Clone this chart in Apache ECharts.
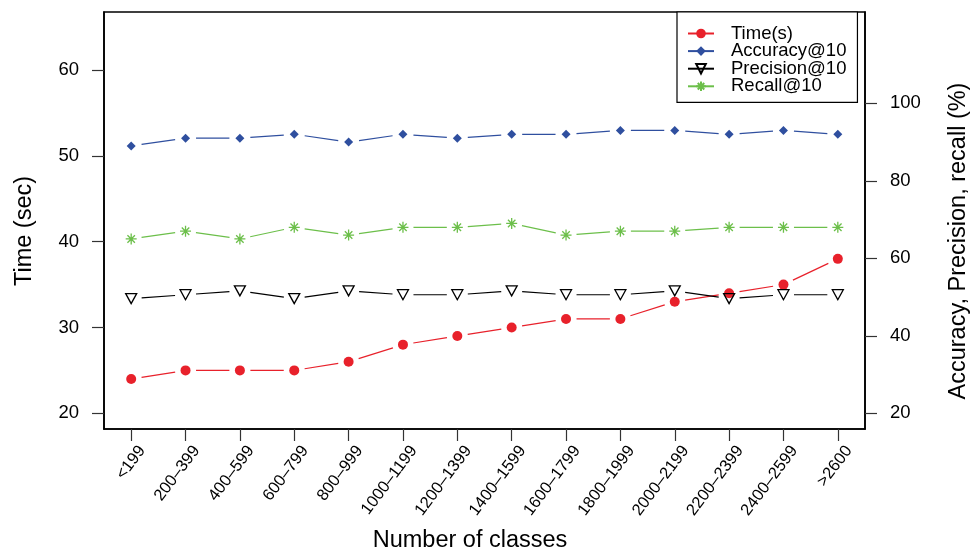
<!DOCTYPE html>
<html>
<head>
<meta charset="utf-8">
<script src="https://cdn.jsdelivr.net/npm/echarts@6/dist/echarts.min.js"></script>
<style>
html,body{margin:0;padding:0;background:#fff;}
#chart{width:971px;height:551px;}
</style>
</head>
<body>
<div id="chart"></div>
<script>
const categories = ['<199','200–399','400–599','600–799','800–999','1000–1199','1200–1399','1400–1599','1600–1799','1800–1999','2000–2199','2200–2399','2400–2599','>2600'];
const timeSec   = [24,25,25,25,26,28,29,30,31,31,33,34,35,38];
const accuracy  = [89,91,91,92,90,92,91,92,92,93,93,92,93,92];
const precision = [49.6,50.6,51.6,49.6,51.6,50.6,50.6,51.6,50.6,50.6,51.6,49.6,50.6,50.6];
const recall    = [65,67,65,68,66,68,68,69,66,67,67,68,68,68];
const leftTicks  = [20,30,40,50,60];
const rightTicks = [20,40,60,80,100];
const seriesNames = ['Time(s)','Accuracy@10','Precision@10','Recall@10'];

const FONT = '"Liberation Sans", Arial, Helvetica, sans-serif';
const RED = '#E8212B', BLUE = '#2F4F9F', BLACK = '#000000', GREEN = '#6CBF4A';
const GAP = 10.5;
const ASTERISK = 'path://M0,5L10,5M5,0L5,10M1.6,1.6L8.4,8.4M8.4,1.6L1.6,8.4';

function gapLine(values, color, yAxisIndex, z) {
  const data = [];
  for (let i = 0; i < values.length - 1; i++) data.push([i, values[i], i + 1, values[i + 1]]);
  return {
    type: 'custom', yAxisIndex: yAxisIndex, silent: true, z: z,
    data: data, encode: { x: [0, 2], y: [1, 3] },
    renderItem: function (params, api) {
      const a = api.coord([api.value(0), api.value(1)]);
      const b = api.coord([api.value(2), api.value(3)]);
      const dx = b[0] - a[0], dy = b[1] - a[1], L = Math.hypot(dx, dy);
      if (L <= 2 * GAP) return null;
      const ux = dx / L, uy = dy / L;
      return {
        type: 'line',
        shape: { x1: a[0] + ux * GAP, y1: a[1] + uy * GAP, x2: b[0] - ux * GAP, y2: b[1] - uy * GAP },
        style: { stroke: color, lineWidth: 1.2 }
      };
    }
  };
}

function markers(name, values, color, yAxisIndex, symbol, size, itemStyle, z, rot) {
  return {
    name: name, type: 'line', yAxisIndex: yAxisIndex, z: z,
    data: values, symbol: symbol, symbolSize: size, symbolRotate: rot || 0,
    showAllSymbol: true, silent: true, animation: false,
    lineStyle: { color: color, width: 1.2, opacity: 0 },
    itemStyle: itemStyle
  };
}

const chart = echarts.init(document.getElementById('chart'), null, { renderer: 'canvas' });
chart.setOption({
  animation: false,
  backgroundColor: '#ffffff',
  textStyle: { fontFamily: FONT },
  grid: { left: 104, right: 106, top: 12, bottom: 122, show: true, borderColor: '#000', borderWidth: 1.6, containLabel: false },
  xAxis: {
    type: 'category', data: categories, boundaryGap: true,
    axisLine: { show: true, lineStyle: { color: '#000', width: 1.6 } },
    axisTick: { show: true, alignWithLabel: true, length: 12, inside: false, lineStyle: { color: '#333', width: 1.2 } },
    axisLabel: { interval: 0, rotate: 53, margin: 10.5, color: '#000', fontSize: 16.5, fontFamily: FONT,
                 align: 'right', verticalAlign: 'top', lineHeight: 27.5 },
    splitLine: { show: false }
  },
  yAxis: [
    {
      type: 'value', position: 'left', min: 18.17, max: 66.77,
      axisLine: { show: true, lineStyle: { color: '#000', width: 1.6 } },
      axisTick: { show: true, length: 12, lineStyle: { color: '#333', width: 1.2 }, customValues: leftTicks },
      axisLabel: { color: '#000', fontSize: 18.5, fontFamily: FONT, margin: 25, customValues: leftTicks },
      splitLine: { show: false }
    },
    {
      type: 'value', position: 'right', min: 15.95, max: 123.56,
      axisLine: { show: true, lineStyle: { color: '#000', width: 1.6 } },
      axisTick: { show: true, length: 12, lineStyle: { color: '#333', width: 1.2 }, customValues: rightTicks },
      axisLabel: { color: '#000', fontSize: 18.5, fontFamily: FONT, margin: 25, customValues: rightTicks },
      splitLine: { show: false }
    }
  ],
  legend: {
    orient: 'vertical', left: 677, top: 12,
    padding: [12, 11, 6.5, 10],
    itemWidth: 26, itemHeight: 12, itemGap: -1.4,
    backgroundColor: '#fff', borderColor: '#000', borderWidth: 1.2, borderRadius: 0,
    textStyle: { fontSize: 18.5, lineHeight: 17, color: '#000', fontFamily: FONT, padding: [0, 0, 0, 12] },
    data: seriesNames.map(function (n) { return { name: n, lineStyle: { opacity: 1 } }; }),
    selectedMode: false
  },
  series: [
    gapLine(timeSec, RED, 0, 2),
    markers(seriesNames[0], timeSec, RED, 0, 'circle', 10, { color: RED }, 3),
    gapLine(accuracy, BLUE, 1, 4),
    markers(seriesNames[1], accuracy, BLUE, 1, 'diamond', 9, { color: BLUE }, 5),
    gapLine(precision, BLACK, 1, 6),
    markers(seriesNames[2], precision, BLACK, 1, 'triangle', [11, 10], { color: 'rgba(255,255,255,0)', borderColor: BLACK, borderWidth: 1.3 }, 7, 180),
    gapLine(recall, GREEN, 1, 8),
    markers(seriesNames[3], recall, GREEN, 1, ASTERISK, 11, { color: 'rgba(255,255,255,0)', borderColor: GREEN, borderWidth: 1.3 }, 9)
  ],
  graphic: [
    { type: 'text', x: 24.5, y: 231, rotation: Math.PI / 2, silent: true,
      style: { text: 'Time (sec)', font: '23.5px ' + FONT, fill: '#000', align: 'center', verticalAlign: 'middle' } },
    { type: 'text', x: 959, y: 241, rotation: Math.PI / 2, silent: true,
      style: { text: 'Accuracy, Precision, recall (%)', font: '23.5px ' + FONT, fill: '#000', align: 'center', verticalAlign: 'middle' } },
    { type: 'text', x: 470, y: 541, silent: true,
      style: { text: 'Number of classes', font: '23.5px ' + FONT, fill: '#000', align: 'center', verticalAlign: 'middle' } }
  ]
});
</script>
</body>
</html>
